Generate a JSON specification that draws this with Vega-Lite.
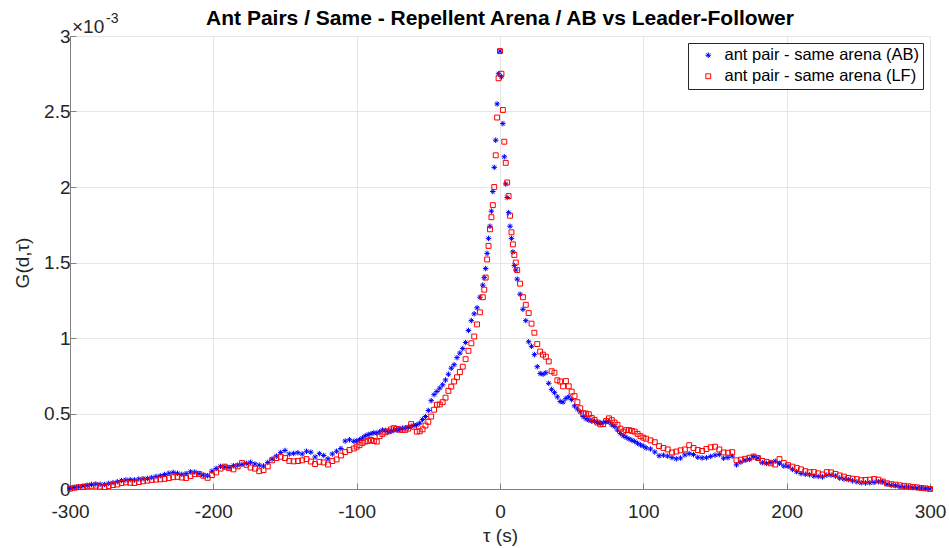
{
  "$schema": "https://vega.github.io/schema/vega-lite/v6.json",
  "width": 860,
  "height": 453,
  "autosize": {"type": "none"},
  "padding": {"left": 70, "top": 36, "right": 19, "bottom": 59},
  "background": "white",
  "title": {
    "text": "Ant Pairs / Same - Repellent Arena / AB vs Leader-Follower",
    "font": "Liberation Sans",
    "fontSize": 21,
    "fontWeight": "bold",
    "color": "#000000",
    "anchor": "middle",
    "offset": -17
  },
  "config": {
    "view": {"stroke": null},
    "font": "Liberation Sans",
    "axis": {
      "labelFont": "Liberation Sans",
      "titleFont": "Liberation Sans",
      "labelFontSize": 19,
      "titleFontSize": 19,
      "titleFontWeight": "normal",
      "labelColor": "#262626",
      "titleColor": "#262626",
      "domainColor": "#808080",
      "tickColor": "#808080",
      "gridColor": "#e6e6e6",
      "gridWidth": 1,
      "tickSize": -6,
      "labelPadding": 6,
      "labelFlush": false,
      "labelOverlap": false
    }
  },
  "data": {
    "values": [
      {"tau":-300,"AB":0.004e-3,"LF":0.002e-3},
      {"tau":-297,"AB":0.010e-3,"LF":0.008e-3},
      {"tau":-294,"AB":0.014e-3,"LF":0.012e-3},
      {"tau":-291,"AB":0.020e-3,"LF":0.013e-3},
      {"tau":-288,"AB":0.024e-3,"LF":0.018e-3},
      {"tau":-285,"AB":0.030e-3,"LF":0.021e-3},
      {"tau":-282,"AB":0.033e-3,"LF":0.022e-3},
      {"tau":-279,"AB":0.031e-3,"LF":0.016e-3},
      {"tau":-276,"AB":0.030e-3,"LF":0.013e-3},
      {"tau":-273,"AB":0.037e-3,"LF":0.020e-3},
      {"tau":-270,"AB":0.042e-3,"LF":0.026e-3},
      {"tau":-267,"AB":0.048e-3,"LF":0.030e-3},
      {"tau":-264,"AB":0.056e-3,"LF":0.040e-3},
      {"tau":-261,"AB":0.060e-3,"LF":0.044e-3},
      {"tau":-258,"AB":0.062e-3,"LF":0.041e-3},
      {"tau":-255,"AB":0.060e-3,"LF":0.040e-3},
      {"tau":-252,"AB":0.066e-3,"LF":0.046e-3},
      {"tau":-249,"AB":0.068e-3,"LF":0.051e-3},
      {"tau":-246,"AB":0.070e-3,"LF":0.055e-3},
      {"tau":-243,"AB":0.076e-3,"LF":0.060e-3},
      {"tau":-240,"AB":0.083e-3,"LF":0.062e-3},
      {"tau":-237,"AB":0.088e-3,"LF":0.064e-3},
      {"tau":-234,"AB":0.096e-3,"LF":0.067e-3},
      {"tau":-231,"AB":0.104e-3,"LF":0.072e-3},
      {"tau":-228,"AB":0.110e-3,"LF":0.078e-3},
      {"tau":-225,"AB":0.104e-3,"LF":0.080e-3},
      {"tau":-222,"AB":0.097e-3,"LF":0.076e-3},
      {"tau":-219,"AB":0.102e-3,"LF":0.073e-3},
      {"tau":-216,"AB":0.114e-3,"LF":0.085e-3},
      {"tau":-213,"AB":0.112e-3,"LF":0.098e-3},
      {"tau":-210,"AB":0.102e-3,"LF":0.100e-3},
      {"tau":-207,"AB":0.092e-3,"LF":0.088e-3},
      {"tau":-204,"AB":0.088e-3,"LF":0.074e-3},
      {"tau":-201,"AB":0.118e-3,"LF":0.092e-3},
      {"tau":-198,"AB":0.136e-3,"LF":0.110e-3},
      {"tau":-195,"AB":0.150e-3,"LF":0.135e-3},
      {"tau":-192,"AB":0.146e-3,"LF":0.148e-3},
      {"tau":-189,"AB":0.142e-3,"LF":0.138e-3},
      {"tau":-186,"AB":0.154e-3,"LF":0.130e-3},
      {"tau":-183,"AB":0.158e-3,"LF":0.150e-3},
      {"tau":-180,"AB":0.163e-3,"LF":0.172e-3},
      {"tau":-177,"AB":0.170e-3,"LF":0.160e-3},
      {"tau":-174,"AB":0.177e-3,"LF":0.142e-3},
      {"tau":-171,"AB":0.166e-3,"LF":0.135e-3},
      {"tau":-168,"AB":0.158e-3,"LF":0.118e-3},
      {"tau":-165,"AB":0.152e-3,"LF":0.125e-3},
      {"tau":-162,"AB":0.176e-3,"LF":0.150e-3},
      {"tau":-159,"AB":0.198e-3,"LF":0.190e-3},
      {"tau":-156,"AB":0.218e-3,"LF":0.205e-3},
      {"tau":-153,"AB":0.242e-3,"LF":0.213e-3},
      {"tau":-150,"AB":0.255e-3,"LF":0.205e-3},
      {"tau":-147,"AB":0.232e-3,"LF":0.186e-3},
      {"tau":-144,"AB":0.236e-3,"LF":0.183e-3},
      {"tau":-141,"AB":0.240e-3,"LF":0.185e-3},
      {"tau":-138,"AB":0.232e-3,"LF":0.190e-3},
      {"tau":-135,"AB":0.250e-3,"LF":0.198e-3},
      {"tau":-132,"AB":0.244e-3,"LF":0.182e-3},
      {"tau":-129,"AB":0.212e-3,"LF":0.165e-3},
      {"tau":-126,"AB":0.234e-3,"LF":0.180e-3},
      {"tau":-123,"AB":0.222e-3,"LF":0.176e-3},
      {"tau":-120,"AB":0.200e-3,"LF":0.162e-3},
      {"tau":-117,"AB":0.232e-3,"LF":0.185e-3},
      {"tau":-114,"AB":0.250e-3,"LF":0.196e-3},
      {"tau":-111,"AB":0.268e-3,"LF":0.222e-3},
      {"tau":-108,"AB":0.318e-3,"LF":0.245e-3},
      {"tau":-105,"AB":0.326e-3,"LF":0.258e-3},
      {"tau":-102,"AB":0.316e-3,"LF":0.268e-3},
      {"tau":-100,"AB":0.318e-3,"LF":0.280e-3},
      {"tau":-98,"AB":0.326e-3,"LF":0.290e-3},
      {"tau":-96,"AB":0.338e-3,"LF":0.305e-3},
      {"tau":-94,"AB":0.352e-3,"LF":0.314e-3},
      {"tau":-92,"AB":0.360e-3,"LF":0.318e-3},
      {"tau":-90,"AB":0.366e-3,"LF":0.325e-3},
      {"tau":-88,"AB":0.372e-3,"LF":0.318e-3},
      {"tau":-86,"AB":0.370e-3,"LF":0.314e-3},
      {"tau":-84,"AB":0.378e-3,"LF":0.350e-3},
      {"tau":-82,"AB":0.390e-3,"LF":0.365e-3},
      {"tau":-80,"AB":0.388e-3,"LF":0.375e-3},
      {"tau":-78,"AB":0.380e-3,"LF":0.382e-3},
      {"tau":-76,"AB":0.382e-3,"LF":0.395e-3},
      {"tau":-74,"AB":0.388e-3,"LF":0.403e-3},
      {"tau":-72,"AB":0.392e-3,"LF":0.398e-3},
      {"tau":-70,"AB":0.396e-3,"LF":0.392e-3},
      {"tau":-68,"AB":0.402e-3,"LF":0.392e-3},
      {"tau":-66,"AB":0.405e-3,"LF":0.392e-3},
      {"tau":-64,"AB":0.410e-3,"LF":0.400e-3},
      {"tau":-62,"AB":0.415e-3,"LF":0.430e-3},
      {"tau":-60,"AB":0.420e-3,"LF":0.412e-3},
      {"tau":-58,"AB":0.425e-3,"LF":0.380e-3},
      {"tau":-56,"AB":0.436e-3,"LF":0.382e-3},
      {"tau":-54,"AB":0.460e-3,"LF":0.395e-3},
      {"tau":-52,"AB":0.480e-3,"LF":0.420e-3},
      {"tau":-50,"AB":0.520e-3,"LF":0.445e-3},
      {"tau":-48,"AB":0.585e-3,"LF":0.480e-3},
      {"tau":-46,"AB":0.625e-3,"LF":0.525e-3},
      {"tau":-44,"AB":0.646e-3,"LF":0.558e-3},
      {"tau":-42,"AB":0.668e-3,"LF":0.560e-3},
      {"tau":-40,"AB":0.690e-3,"LF":0.575e-3},
      {"tau":-38,"AB":0.722e-3,"LF":0.605e-3},
      {"tau":-36,"AB":0.760e-3,"LF":0.650e-3},
      {"tau":-34,"AB":0.800e-3,"LF":0.678e-3},
      {"tau":-32,"AB":0.823e-3,"LF":0.712e-3},
      {"tau":-30,"AB":0.870e-3,"LF":0.740e-3},
      {"tau":-28,"AB":0.900e-3,"LF":0.775e-3},
      {"tau":-26,"AB":0.930e-3,"LF":0.810e-3},
      {"tau":-24,"AB":0.970e-3,"LF":0.860e-3},
      {"tau":-22,"AB":1.050e-3,"LF":0.915e-3},
      {"tau":-20,"AB":1.115e-3,"LF":0.965e-3},
      {"tau":-18,"AB":1.160e-3,"LF":1.010e-3},
      {"tau":-16,"AB":1.200e-3,"LF":1.090e-3},
      {"tau":-14,"AB":1.270e-3,"LF":1.170e-3},
      {"tau":-12,"AB":1.350e-3,"LF":1.270e-3},
      {"tau":-11,"AB":1.400e-3,"LF":1.320e-3},
      {"tau":-10,"AB":1.460e-3,"LF":1.400e-3},
      {"tau":-9,"AB":1.560e-3,"LF":1.520e-3},
      {"tau":-8,"AB":1.660e-3,"LF":1.610e-3},
      {"tau":-7,"AB":1.740e-3,"LF":1.720e-3},
      {"tau":-6,"AB":1.840e-3,"LF":1.800e-3},
      {"tau":-5,"AB":1.970e-3,"LF":1.880e-3},
      {"tau":-4,"AB":2.130e-3,"LF":2.000e-3},
      {"tau":-3,"AB":2.310e-3,"LF":2.210e-3},
      {"tau":-2,"AB":2.550e-3,"LF":2.460e-3},
      {"tau":-1,"AB":2.750e-3,"LF":2.720e-3},
      {"tau":0,"AB":2.900e-3,"LF":2.900e-3},
      {"tau":1,"AB":2.730e-3,"LF":2.750e-3},
      {"tau":2,"AB":2.420e-3,"LF":2.510e-3},
      {"tau":3,"AB":2.200e-3,"LF":2.300e-3},
      {"tau":4,"AB":2.020e-3,"LF":2.160e-3},
      {"tau":5,"AB":1.930e-3,"LF":2.030e-3},
      {"tau":6,"AB":1.830e-3,"LF":1.940e-3},
      {"tau":7,"AB":1.740e-3,"LF":1.810e-3},
      {"tau":8,"AB":1.660e-3,"LF":1.700e-3},
      {"tau":9,"AB":1.570e-3,"LF":1.620e-3},
      {"tau":10,"AB":1.480e-3,"LF":1.550e-3},
      {"tau":11,"AB":1.450e-3,"LF":1.500e-3},
      {"tau":12,"AB":1.390e-3,"LF":1.450e-3},
      {"tau":14,"AB":1.290e-3,"LF":1.360e-3},
      {"tau":16,"AB":1.190e-3,"LF":1.270e-3},
      {"tau":18,"AB":1.115e-3,"LF":1.220e-3},
      {"tau":20,"AB":0.975e-3,"LF":1.165e-3},
      {"tau":22,"AB":0.945e-3,"LF":1.095e-3},
      {"tau":24,"AB":0.890e-3,"LF":1.035e-3},
      {"tau":26,"AB":0.810e-3,"LF":0.960e-3},
      {"tau":28,"AB":0.765e-3,"LF":0.910e-3},
      {"tau":30,"AB":0.760e-3,"LF":0.890e-3},
      {"tau":32,"AB":0.770e-3,"LF":0.876e-3},
      {"tau":34,"AB":0.700e-3,"LF":0.845e-3},
      {"tau":36,"AB":0.660e-3,"LF":0.780e-3},
      {"tau":38,"AB":0.638e-3,"LF":0.770e-3},
      {"tau":40,"AB":0.610e-3,"LF":0.720e-3},
      {"tau":42,"AB":0.580e-3,"LF":0.712e-3},
      {"tau":44,"AB":0.576e-3,"LF":0.680e-3},
      {"tau":46,"AB":0.600e-3,"LF":0.715e-3},
      {"tau":48,"AB":0.610e-3,"LF":0.680e-3},
      {"tau":50,"AB":0.592e-3,"LF":0.645e-3},
      {"tau":52,"AB":0.550e-3,"LF":0.615e-3},
      {"tau":54,"AB":0.530e-3,"LF":0.575e-3},
      {"tau":56,"AB":0.510e-3,"LF":0.535e-3},
      {"tau":58,"AB":0.480e-3,"LF":0.502e-3},
      {"tau":60,"AB":0.465e-3,"LF":0.500e-3},
      {"tau":62,"AB":0.456e-3,"LF":0.495e-3},
      {"tau":64,"AB":0.450e-3,"LF":0.470e-3},
      {"tau":66,"AB":0.447e-3,"LF":0.458e-3},
      {"tau":68,"AB":0.440e-3,"LF":0.440e-3},
      {"tau":70,"AB":0.436e-3,"LF":0.428e-3},
      {"tau":72,"AB":0.440e-3,"LF":0.430e-3},
      {"tau":74,"AB":0.447e-3,"LF":0.450e-3},
      {"tau":76,"AB":0.445e-3,"LF":0.468e-3},
      {"tau":78,"AB":0.425e-3,"LF":0.456e-3},
      {"tau":80,"AB":0.414e-3,"LF":0.440e-3},
      {"tau":82,"AB":0.390e-3,"LF":0.425e-3},
      {"tau":84,"AB":0.368e-3,"LF":0.400e-3},
      {"tau":86,"AB":0.352e-3,"LF":0.380e-3},
      {"tau":88,"AB":0.342e-3,"LF":0.390e-3},
      {"tau":90,"AB":0.332e-3,"LF":0.390e-3},
      {"tau":92,"AB":0.323e-3,"LF":0.385e-3},
      {"tau":94,"AB":0.315e-3,"LF":0.380e-3},
      {"tau":96,"AB":0.303e-3,"LF":0.365e-3},
      {"tau":98,"AB":0.292e-3,"LF":0.350e-3},
      {"tau":100,"AB":0.284e-3,"LF":0.340e-3},
      {"tau":102,"AB":0.272e-3,"LF":0.333e-3},
      {"tau":105,"AB":0.265e-3,"LF":0.322e-3},
      {"tau":108,"AB":0.245e-3,"LF":0.310e-3},
      {"tau":111,"AB":0.220e-3,"LF":0.284e-3},
      {"tau":114,"AB":0.224e-3,"LF":0.272e-3},
      {"tau":117,"AB":0.218e-3,"LF":0.262e-3},
      {"tau":120,"AB":0.208e-3,"LF":0.242e-3},
      {"tau":123,"AB":0.200e-3,"LF":0.248e-3},
      {"tau":126,"AB":0.205e-3,"LF":0.256e-3},
      {"tau":129,"AB":0.226e-3,"LF":0.262e-3},
      {"tau":132,"AB":0.234e-3,"LF":0.290e-3},
      {"tau":135,"AB":0.228e-3,"LF":0.272e-3},
      {"tau":138,"AB":0.210e-3,"LF":0.258e-3},
      {"tau":141,"AB":0.206e-3,"LF":0.252e-3},
      {"tau":144,"AB":0.207e-3,"LF":0.265e-3},
      {"tau":147,"AB":0.216e-3,"LF":0.276e-3},
      {"tau":150,"AB":0.224e-3,"LF":0.280e-3},
      {"tau":153,"AB":0.228e-3,"LF":0.262e-3},
      {"tau":156,"AB":0.204e-3,"LF":0.242e-3},
      {"tau":159,"AB":0.208e-3,"LF":0.240e-3},
      {"tau":162,"AB":0.218e-3,"LF":0.244e-3},
      {"tau":165,"AB":0.160e-3,"LF":0.190e-3},
      {"tau":168,"AB":0.178e-3,"LF":0.194e-3},
      {"tau":171,"AB":0.190e-3,"LF":0.200e-3},
      {"tau":174,"AB":0.196e-3,"LF":0.207e-3},
      {"tau":177,"AB":0.215e-3,"LF":0.215e-3},
      {"tau":180,"AB":0.205e-3,"LF":0.205e-3},
      {"tau":183,"AB":0.174e-3,"LF":0.186e-3},
      {"tau":186,"AB":0.170e-3,"LF":0.180e-3},
      {"tau":189,"AB":0.176e-3,"LF":0.170e-3},
      {"tau":192,"AB":0.184e-3,"LF":0.162e-3},
      {"tau":195,"AB":0.170e-3,"LF":0.198e-3},
      {"tau":198,"AB":0.152e-3,"LF":0.172e-3},
      {"tau":201,"AB":0.150e-3,"LF":0.158e-3},
      {"tau":204,"AB":0.130e-3,"LF":0.148e-3},
      {"tau":207,"AB":0.114e-3,"LF":0.140e-3},
      {"tau":210,"AB":0.102e-3,"LF":0.130e-3},
      {"tau":213,"AB":0.098e-3,"LF":0.118e-3},
      {"tau":216,"AB":0.094e-3,"LF":0.111e-3},
      {"tau":219,"AB":0.086e-3,"LF":0.112e-3},
      {"tau":222,"AB":0.083e-3,"LF":0.104e-3},
      {"tau":225,"AB":0.080e-3,"LF":0.096e-3},
      {"tau":228,"AB":0.092e-3,"LF":0.112e-3},
      {"tau":231,"AB":0.092e-3,"LF":0.110e-3},
      {"tau":234,"AB":0.086e-3,"LF":0.100e-3},
      {"tau":237,"AB":0.072e-3,"LF":0.090e-3},
      {"tau":240,"AB":0.066e-3,"LF":0.082e-3},
      {"tau":243,"AB":0.062e-3,"LF":0.073e-3},
      {"tau":246,"AB":0.054e-3,"LF":0.068e-3},
      {"tau":249,"AB":0.048e-3,"LF":0.065e-3},
      {"tau":252,"AB":0.041e-3,"LF":0.058e-3},
      {"tau":255,"AB":0.040e-3,"LF":0.060e-3},
      {"tau":258,"AB":0.041e-3,"LF":0.062e-3},
      {"tau":261,"AB":0.044e-3,"LF":0.066e-3},
      {"tau":264,"AB":0.048e-3,"LF":0.062e-3},
      {"tau":267,"AB":0.048e-3,"LF":0.050e-3},
      {"tau":270,"AB":0.032e-3,"LF":0.038e-3},
      {"tau":273,"AB":0.026e-3,"LF":0.032e-3},
      {"tau":276,"AB":0.022e-3,"LF":0.029e-3},
      {"tau":279,"AB":0.015e-3,"LF":0.024e-3},
      {"tau":282,"AB":0.013e-3,"LF":0.021e-3},
      {"tau":285,"AB":0.013e-3,"LF":0.018e-3},
      {"tau":288,"AB":0.009e-3,"LF":0.014e-3},
      {"tau":291,"AB":0.007e-3,"LF":0.011e-3},
      {"tau":294,"AB":0.007e-3,"LF":0.007e-3},
      {"tau":297,"AB":0.004e-3,"LF":0.004e-3},
      {"tau":300,"AB":0.001e-3,"LF":0.000e-3}
    ]
  },
  "layer": [
    {
      "transform": [{"fold": ["AB", "LF"], "as": ["series", "G"]}],
      "mark": {"type": "point", "filled": false, "opacity": 1, "strokeWidth": 1, "clip": false},
      "encoding": {
        "x": {
          "field": "tau", "type": "quantitative",
          "scale": {"domain": [-300, 300], "nice": false, "zero": false, "padding": 0},
          "axis": {
            "values": [-300, -200, -100, 0, 100, 200, 300],
            "labelExpr": "datum.value + ''",
            "title": "τ (s)",
            "titlePadding": 5,
            "labelPadding": 19,
            "grid": true
          }
        },
        "y": {
          "field": "G", "type": "quantitative",
          "scale": {"domain": [0, 0.003], "nice": false, "padding": 0},
          "axis": {
            "values": [0, 0.0005, 0.001, 0.0015, 0.002, 0.0025, 0.003],
            "labelExpr": "format(datum.value * 1000, '.1~f')",
            "title": "G(d,τ)",
            "titlePadding": 11,
            "grid": true
          }
        },
        "color": {
          "field": "series", "type": "nominal",
          "scale": {"domain": ["AB", "LF"], "range": ["#0000ff", "#ff0000"]},
          "legend": {
            "title": null,
            "orient": "top-right",
            "offset": 7,
            "labelExpr": "datum.label == 'AB' ? 'ant pair - same arena (AB)' : 'ant pair - same arena (LF)'",
            "labelFont": "Liberation Sans",
            "labelFontSize": 16.5,
            "labelLimit": 400,
            "labelColor": "#000000",
            "strokeColor": "#262626",
            "fillColor": "#ffffff",
            "padding": 4,
            "rowPadding": 4,
            "symbolOffset": 8,
            "labelOffset": 8,
            "symbolStrokeWidth": 1,
            "symbolSize": 30,
            "cornerRadius": 0
          }
        },
        "shape": {
          "field": "series", "type": "nominal",
          "scale": {"domain": ["AB", "LF"], "range": ["M-1,0L1,0M0,-1L0,1M-0.7,-0.7L0.7,0.7M-0.7,0.7L0.7,-0.7", "square"]},
          "legend": null
        },
        "size": {
          "field": "series", "type": "nominal",
          "scale": {"domain": ["AB", "LF"], "range": [30, 24]},
          "legend": null
        }
      }
    },
    {
      "data": {"values": [{"tau": -300, "G": 0.003, "txt": "×10"}]},
      "mark": {"type": "text", "align": "left", "baseline": "alphabetic", "dx": 2, "dy": -3, "fontSize": 19, "font": "Liberation Sans", "color": "#262626"},
      "encoding": {
        "x": {"field": "tau", "type": "quantitative"},
        "y": {"field": "G", "type": "quantitative"},
        "text": {"field": "txt"}
      }
    },
    {
      "data": {"values": [{"tau": -300, "G": 0.003, "txt": "-3"}]},
      "mark": {"type": "text", "align": "left", "baseline": "alphabetic", "dx": 36, "dy": -13, "fontSize": 14, "font": "Liberation Sans", "color": "#262626"},
      "encoding": {
        "x": {"field": "tau", "type": "quantitative"},
        "y": {"field": "G", "type": "quantitative"},
        "text": {"field": "txt"}
      }
    }
  ]
}
